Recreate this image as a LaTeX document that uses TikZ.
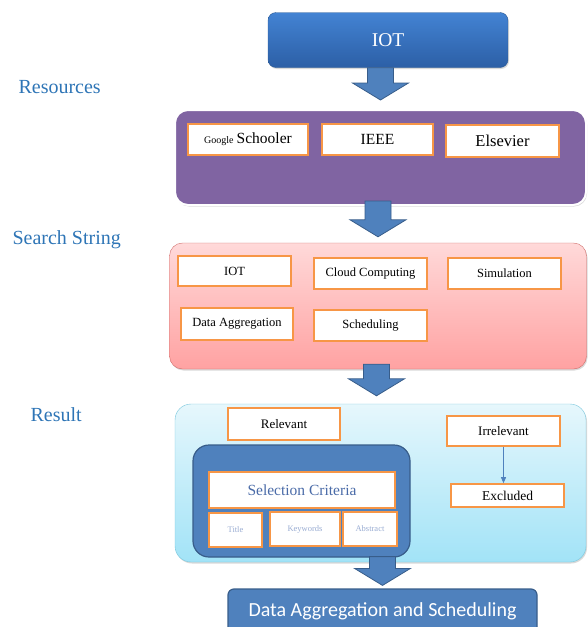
\documentclass[tikz,border=0pt]{standalone}
\usepackage{fontspec}
\setmainfont{Liberation Serif}
\newfontfamily\calibri{Carlito}
\usetikzlibrary{calc,shadows,arrows.meta}
\definecolor{iottop}{HTML}{4383D3}
\definecolor{iotbot}{HTML}{2C5FA6}
\definecolor{iotedge}{HTML}{2C5A94}
\definecolor{respurple}{HTML}{8064A2}
\definecolor{pinktop}{HTML}{FFD9D9}
\definecolor{pinkbot}{HTML}{FFA2A2}
\definecolor{pinkedge}{HTML}{CF6B68}
\definecolor{skytop}{HTML}{E6F7FC}
\definecolor{skybot}{HTML}{A2E3F7}
\definecolor{skyedge}{HTML}{78C6DC}
\definecolor{critblue}{HTML}{4F81BD}
\definecolor{critedge}{HTML}{385D8A}
\definecolor{cellorange}{HTML}{F79646}
\definecolor{sideblue}{HTML}{2E75B6}
\definecolor{critText}{HTML}{4A6BA8}
\definecolor{smallText}{HTML}{9AADD3}
\tikzset{
  box size/.style 2 args={minimum width=#1, minimum height=#2},
  cell/.style={draw=cellorange, line width=1.6pt, fill=white, inner sep=0pt,
    font=\fontsize{12.5}{14}\selectfont},
  panel/.style={rounded corners=13pt, inner sep=0pt,
    drop shadow={shadow xshift=1pt, shadow yshift=-1.5pt, opacity=0.3}},
  side/.style={text=sideblue, anchor=west, font=\fontsize{20}{22}\selectfont},
  flow/.style={fill=critblue, draw=critedge, line width=0.8pt},
}
\newcommand{\flowarrow}[2]{%
  \draw[flow] let \p1=#1, \p2=#2 in
    (\x2-13pt,\y1) -- (\x2+13pt,\y1) -- (\x2+13pt,\y2+17pt) -- (\x2+28pt,\y2+17pt)
    -- (\x2,\y2) -- (\x2-28pt,\y2+17pt) -- (\x2-13pt,\y2+17pt) -- cycle;}
\begin{document}
\begin{tikzpicture}[x=1pt,y=-1pt]
  \useasboundingbox (0,0) rectangle (587,627);
  \node[panel, rounded corners=8pt, box size={240}{55}, top color=iottop, bottom color=iotbot,
    draw=iotedge, text=white, font=\fontsize{19.5}{21}\selectfont] (iot) at (388,40) {IOT};

  \node[side] (lres) at (15,87) {Resources};
  \node[side] (lsearch) at (9,240) {Search String};
  \node[side] (lresult) at (27,415) {Result};

  \node[panel, box size={411}{95}, fill=respurple, draw=white, line width=2pt] (res) at (380.5,157.5) {};
  \node[cell, box size={120}{31}] (google) at (248,139.5)
    {{\fontsize{10}{12}\selectfont Google} {\fontsize{15.5}{17}\selectfont Schooler}};
  \node[cell, box size={111}{31}, font=\fontsize{15.5}{17}\selectfont] (ieee) at (377.5,139.5) {IEEE};
  \node[cell, box size={113}{32}, font=\fontsize{16.5}{18}\selectfont] (elsevier) at (502.5,141) {Elsevier};

  \node[panel, box size={417}{126}, top color=pinktop, bottom color=pinkbot, draw=pinkedge] (search) at (378,306) {};
  \node[cell, box size={113}{30}] (siot) at (234.5,271) {IOT};
  \node[cell, box size={113}{31}] (cloud) at (370.5,273.5) {Cloud Computing};
  \node[cell, box size={113}{31}] (sim) at (504.5,273.5) {Simulation};
  \node[cell, box size={112}{32}] (dagg) at (237,324) {Data Aggregation};
  \node[cell, box size={113}{31}] (sched) at (370.5,325.5) {Scheduling};

  \node[panel, rounded corners=16pt, box size={411}{158}, top color=skytop, bottom color=skybot, draw=skyedge] (result) at (380.5,483) {};
  \node[cell, box size={112}{32}, font=\fontsize{13}{15}\selectfont] (rel) at (284,424) {Relevant};
  \node[cell, box size={113}{30}, font=\fontsize{13}{15}\selectfont] (irr) at (503.5,431) {Irrelevant};
  \node[cell, box size={113}{23}, font=\fontsize{13.5}{15}\selectfont] (excl) at (507.5,495.5) {Excluded};
  \node[rounded corners=16pt, box size={217}{112}, fill=critblue, draw=critedge, line width=1.2pt] (crit) at (301.5,501) {};
  \node[cell, box size={186}{36}, text=critText, font=\fontsize{15.5}{17}\selectfont] (selc) at (302,490) {Selection Criteria};
  \node[cell, box size={53}{34}, text=smallText, font=\fontsize{8.5}{10}\selectfont] (title) at (235.5,530) {Title};
  \node[cell, box size={70}{34}, text=smallText, font=\fontsize{8.5}{10}\selectfont] (keyw) at (305,529) {Keywords};
  \node[cell, box size={54}{34}, text=smallText, font=\fontsize{8.5}{10}\selectfont] (abst) at (370,529) {Abstract};

  \node[rounded corners=6pt, box size={309}{52}, fill=critblue, draw=critedge, line width=1.2pt,
    text=white, font=\calibri\fontsize{20}{22}\selectfont, text depth=0pt] (data) at (382.5,615)
    {\raisebox{11pt}{Data Aggregation and Scheduling}};

  \begin{scope}
    \flowarrow{(iot.south)}{([yshift=9pt]res.north)}
    \flowarrow{([yshift=5pt]res.south)}{([yshift=6pt]search.north)}
    \flowarrow{([yshift=5pt]search.south)}{([xshift=-4pt,yshift=8pt]result.north)}
    \flowarrow{([yshift=1pt]crit.south)}{([yshift=3pt]data.north)}
    \draw[draw=critblue, line width=0.8pt, -{Triangle[width=5pt,length=6pt]}] (irr.south) -- (irr.south |- excl.north);
  \end{scope}
\end{tikzpicture}
\end{document}
